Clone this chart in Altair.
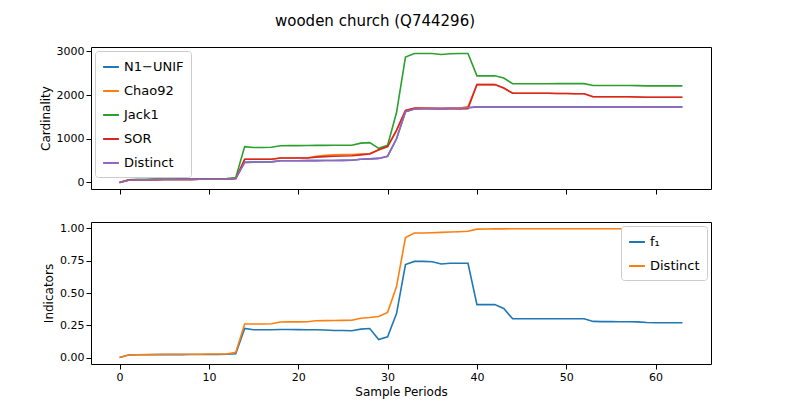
import pandas as pd
import altair as alt

periods = list(range(64))

distinct = [0, 50, 60, 62, 65, 67, 68, 70, 70, 72, 72, 74, 76, 90, 460, 465, 468, 470,
            495, 497, 498, 500, 500, 502, 503, 505, 507, 530, 540, 550, 600, 1000, 1620,
            1680, 1685, 1690, 1690, 1695, 1700, 1710] + [1730] * 24
n1_unif = list(distinct)
jack1 = [0, 60, 70, 72, 75, 78, 80, 82, 83, 84, 85, 86, 88, 110, 820, 800, 800, 805,
         840, 842, 843, 845, 848, 848, 850, 850, 850, 900, 910, 780, 850, 1600, 2870,
         2950, 2950, 2950, 2930, 2945, 2950, 2950, 2440, 2440, 2440, 2390, 2260, 2260,
         2260, 2260, 2260, 2262, 2262, 2262, 2262, 2220, 2220, 2220, 2220, 2220, 2215,
         2210, 2210, 2210, 2210, 2210]
sor = [0, 55, 60, 62, 65, 67, 68, 70, 70, 72, 72, 74, 76, 90, 530, 530, 530, 530,
       560, 560, 560, 560, 580, 590, 600, 605, 610, 630, 650, 750, 820, 1200, 1650,
       1700, 1700, 1695, 1690, 1690, 1685, 1690, 2240, 2240, 2240, 2160, 2040, 2040,
       2040, 2040, 2040, 2035, 2035, 2030, 2030, 1960, 1960, 1960, 1960, 1960, 1955,
       1950, 1950, 1950, 1950, 1950]
chao92 = sor[:22] + [600, 620, 630, 640, 640, 650, 660, 740, 820, 1180, 1640, 1690,
                     1690, 1690, 1690, 1695, 1700, 1740] + sor[40:]

f1 = [0, 0.02, 0.022, 0.022, 0.023, 0.023, 0.023, 0.023, 0.024, 0.024, 0.024, 0.024,
      0.025, 0.03, 0.225, 0.215, 0.215, 0.215, 0.217, 0.217, 0.216, 0.215, 0.215, 0.213,
      0.21, 0.21, 0.208, 0.22, 0.225, 0.14, 0.16, 0.34, 0.72, 0.745, 0.745, 0.742, 0.725,
      0.73, 0.73, 0.73, 0.41, 0.41, 0.41, 0.38, 0.30, 0.30, 0.30, 0.30, 0.30, 0.30, 0.30,
      0.30, 0.30, 0.28, 0.278, 0.278, 0.277, 0.277, 0.276, 0.272, 0.27, 0.27, 0.27, 0.27]
dist_ind = [0, 0.02, 0.022, 0.023, 0.024, 0.025, 0.025, 0.026, 0.026, 0.026, 0.027,
            0.027, 0.028, 0.04, 0.26, 0.26, 0.26, 0.262, 0.275, 0.276, 0.276, 0.277,
            0.285, 0.286, 0.287, 0.288, 0.289, 0.305, 0.31, 0.318, 0.35, 0.55, 0.93,
            0.965, 0.965, 0.967, 0.97, 0.972, 0.975, 0.978] + [0.995, 0.996, 0.997,
            0.997] + [0.998] * 20

tab = ["#1f77b4", "#ff7f0e", "#2ca02c", "#d62728", "#9467bd"]

top_names = ["N1\u2212UNIF", "Chao92", "Jack1", "SOR", "Distinct"]
top_df = pd.concat([
    pd.DataFrame({"period": periods, "value": vals, "series": name})
    for name, vals in zip(top_names, [n1_unif, chao92, jack1, sor, distinct])
])
bot_names = ["f\u2081", "Distinct"]
bot_df = pd.concat([
    pd.DataFrame({"period": periods, "value": vals, "series": name})
    for name, vals in zip(bot_names, [f1, dist_ind])
])

xscale = alt.Scale(domain=[-3.2, 66.2], nice=False, zero=False)

top = alt.Chart(top_df).mark_line(strokeWidth=1.6).encode(
    x=alt.X("period:Q", scale=xscale, title=None,
            axis=alt.Axis(values=[0, 10, 20, 30, 40, 50, 60], labels=False)),
    y=alt.Y("value:Q", title="Cardinality",
            scale=alt.Scale(domain=[-150, 3100], nice=False),
            axis=alt.Axis(values=[0, 1000, 2000, 3000], format="d")),
    color=alt.Color("series:N", sort=top_names,
                    scale=alt.Scale(domain=top_names, range=tab),
                    legend=alt.Legend(title=None, orient="top-left", offset=4)),
).properties(width=620, height=142)

bot = alt.Chart(bot_df).mark_line(strokeWidth=1.6).encode(
    x=alt.X("period:Q", scale=xscale, title="Sample Periods",
            axis=alt.Axis(values=[0, 10, 20, 30, 40, 50, 60])),
    y=alt.Y("value:Q", title="Indicators",
            scale=alt.Scale(domain=[-0.05, 1.05], nice=False),
            axis=alt.Axis(values=[0, 0.25, 0.5, 0.75, 1.0], format=".2f")),
    color=alt.Color("series:N", sort=bot_names,
                    scale=alt.Scale(domain=bot_names, range=tab[:2]),
                    legend=alt.Legend(title=None, orient="top-right", offset=4)),
).properties(width=620, height=142)

chart = alt.vconcat(top, bot, spacing=26).resolve_scale(color="independent").properties(
    title=alt.Title("wooden church (Q744296)", fontSize=15, fontWeight="normal",
                    anchor="middle", font="DejaVu Sans", offset=16),
    padding={"left": 30, "top": 5, "right": 5, "bottom": 5},
).configure_view(stroke="black", strokeWidth=1).configure_axis(
    grid=False, domain=False, tickColor="black", labelColor="black",
    labelFont="DejaVu Sans", titleFont="DejaVu Sans", labelFontSize=11,
    titleFontSize=12, titleFontWeight="normal",
).configure_legend(
    labelFont="DejaVu Sans", labelFontSize=13, strokeColor="#cccccc",
    fillColor="white", padding=7, rowPadding=8, symbolType="stroke",
    symbolStrokeWidth=2, symbolSize=250, cornerRadius=3,
)

chart.save("out.html", embed_options={"renderer": "svg", "actions": False})
